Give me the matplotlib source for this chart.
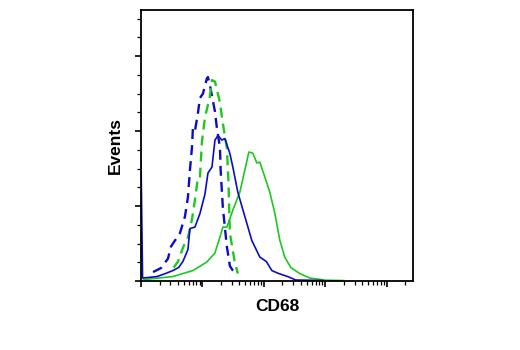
import matplotlib
matplotlib.use('Agg')
import matplotlib.pyplot as plt
import numpy as np
from matplotlib.ticker import LogLocator, NullFormatter, MultipleLocator

# CD68 histograms (fluorescence intensity, events)
blue_dash_x = [1.57, 2.12, 2.75, 3.07, 4.31, 5.19, 5.81, 6.26, 6.75, 7.0, 7.55, 8.45, 9.11,
               10.2, 11.8, 12.3, 13.2, 16.0, 17.2, 19.3, 19.8, 21.5, 25.0, 28.0, 31.3, 36.4]
blue_dash_y = [6, 8.7, 15, 23, 32, 43, 56, 74, 89, 102, 100, 112, 122,
               125, 135, 136, 131, 113, 102, 89, 74, 49, 23, 10, 7, 4]

green_dash_x = [3.4, 4.0, 4.9, 5.81, 6.75, 7.55, 8.45, 9.11, 9.82, 11.0, 13.2, 14.3,
                16.0, 19.3, 21.5, 25.0, 26.0, 26.5, 28.0, 33.8, 37.8]
green_dash_y = [9, 13, 23, 29, 41, 54, 69, 69, 93, 109, 123, 134,
                133, 119, 105, 89, 74, 67, 32, 12, 5]

blue_x = [1.0, 1.03, 1.06, 1.82, 2.5, 3.3, 4.1, 4.8, 5.81, 6.26, 7.55, 9.11, 11.0, 12.3,
          14.3, 16.0, 17.9, 20.7, 23.2, 28.0, 31.3, 37.8, 49.1, 63.8, 86.1, 110, 135,
          175, 245, 330, 900]
blue_y = [80, 40, 2, 3, 5, 7, 9, 13, 21, 35, 36, 45, 58, 72,
          76, 94, 97, 94, 95, 85, 76, 59, 43, 27, 16, 13, 7,
          5, 3, 0.7, 0.4]

green_x = [1.1, 3.3, 4.8, 7.0, 11.8, 16.0, 19.3, 21.5, 25.0, 31.3, 40.7, 49.1, 57.0, 66.2,
           76.9, 86.1, 104, 125, 151, 182, 219, 275, 385, 560, 1000, 2000]
green_y = [1, 3, 5, 7, 12.7, 18.7, 29.3, 36, 36, 47.3, 59.3, 74, 86, 85.3,
           78.7, 79.3, 69.3, 59.3, 45.3, 27.3, 16, 9, 5, 2, 0.6, 0.3]

blue = '#0c0cc8'
green = '#1ec81e'

fig = plt.figure(figsize=(5.2, 3.5), dpi=100)
ax = fig.add_axes([0.2712, 0.197, 0.5231, 0.7743])

dash = (0, (4.2, 2.6))
ax.plot(blue_dash_x, blue_dash_y, color=blue, lw=1.7, ls=dash)
ax.plot(green_dash_x, green_dash_y, color=green, lw=1.7, ls=dash)
ax.plot(green_x, green_y, color=green, lw=1.2)
ax.plot(blue_x, blue_y, color=blue, lw=1.2)

ax.set_xscale('log')
ax.set_xlim(1, 10 ** 4.43)
ax.set_ylim(0, 180.7)

ax.xaxis.set_major_locator(LogLocator(base=10, numticks=10))
ax.xaxis.set_minor_locator(LogLocator(base=10, subs=np.arange(2, 10), numticks=20))
ax.xaxis.set_major_formatter(NullFormatter())
ax.xaxis.set_minor_formatter(NullFormatter())
ax.yaxis.set_major_locator(MultipleLocator(50))
ax.yaxis.set_minor_locator(MultipleLocator(12.5))
ax.yaxis.set_major_formatter(NullFormatter())

ax.tick_params(which='major', direction='out', length=4.5, width=1.2, color='black')
ax.tick_params(which='minor', direction='out', length=2.6, width=0.9, color='black')
for s in ax.spines.values():
    s.set_linewidth(1.3)

font = dict(family=['Liberation Sans Narrow', 'Liberation Sans', 'DejaVu Sans'],
            weight='bold', size=12.5)
ax.set_xlabel('CD68', fontdict=font, labelpad=5)
ax.set_ylabel('Events', fontdict=font, labelpad=5)

fig.savefig('out.png', dpi=100)
